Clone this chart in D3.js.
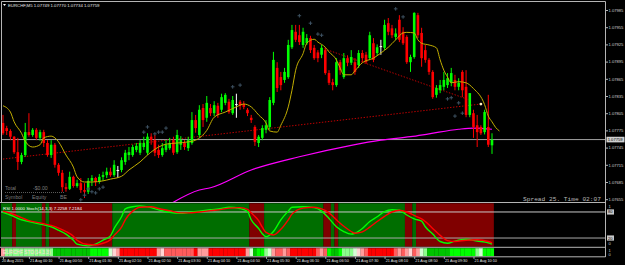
<!DOCTYPE html>
<html>
<head>
<meta charset="utf-8">
<script src="https://cdn.jsdelivr.net/npm/d3@7"></script>
<style>
html, body { margin: 0; padding: 0; background: #000; }
svg { display: block; }
text { font-family: "Liberation Sans", Arial, sans-serif; }
</style>
</head>
<body>
<div id="master"></div>
<script>
// ---- data ----
const title = "EURCHF,M5  1.07749 1.07770 1.07734 1.07759";
const openP = [1.07788,1.07779,1.07774,1.07764,1.07737,1.07720,1.07732,1.07772,1.07767,1.07776,
1.07762,1.07772,1.07753,1.07732,1.07750,1.07715,1.07701,1.07676,1.07673,1.07694,
1.07678,1.07683,1.07671,1.07668,1.07687,1.07692,1.07685,1.07694,1.07697,1.07703,
1.07697,1.07706,1.07706,1.07720,1.07732,1.07732,1.07741,1.07736,1.07746,1.07736,
1.07764,1.07758,1.07741,1.07732,1.07741,1.07744,1.07758,1.07737,1.07750,1.07753,
1.07744,1.07753,1.07793,1.07767,1.07814,1.07797,1.07814,1.07805,1.07818,1.07811,
1.07823,1.07825,1.07805,1.07821,1.07825,1.07821,1.07811,1.07797,1.07781,1.07753,
1.07762,1.07776,1.07781,1.07823,1.07884,1.07868,1.07863,1.07868,1.07920,1.07947,
1.07941,1.07924,1.07927,1.07936,1.07919,1.07911,1.07907,1.07915,1.07875,1.07859,
1.07854,1.07894,1.07868,1.07901,1.07893,1.07894,1.07889,1.07910,1.07907,1.07901,
1.07927,1.07910,1.07922,1.07919,1.07962,1.07953,1.07938,1.07968,1.07947,1.07938,
1.07894,1.07903,1.07976,1.07945,1.07915,1.07898,1.07877,1.07837,1.07845,1.07851,
1.07854,1.07858,1.07863,1.07851,1.07877,1.07851,1.07802,1.07805,1.07784,1.07781,
1.07772,1.07781,1.07749];
const highP = [1.07802,1.07783,1.07777,1.07765,1.07762,1.07736,1.07788,1.07805,1.07779,1.07779,
1.07776,1.07776,1.07758,1.07758,1.07753,1.07718,1.07706,1.07683,1.07703,1.07696,
1.07689,1.07692,1.07683,1.07692,1.07697,1.07694,1.07699,1.07703,1.07710,1.07710,
1.07723,1.07713,1.07728,1.07741,1.07746,1.07750,1.07753,1.07758,1.07764,1.07770,
1.07770,1.07767,1.07750,1.07753,1.07758,1.07762,1.07764,1.07776,1.07765,1.07758,
1.07764,1.07807,1.07802,1.07819,1.07821,1.07835,1.07821,1.07826,1.07823,1.07839,
1.07840,1.07830,1.07835,1.07839,1.07828,1.07826,1.07814,1.07802,1.07784,1.07767,
1.07784,1.07793,1.07833,1.07912,1.07894,1.07877,1.07884,1.07933,1.07959,1.07959,
1.07959,1.07954,1.07943,1.07940,1.07924,1.07915,1.07924,1.07920,1.07880,1.07865,
1.07901,1.07898,1.07910,1.07906,1.07915,1.07901,1.07915,1.07915,1.07912,1.07947,
1.07936,1.07925,1.07933,1.07968,1.07971,1.07959,1.07953,1.07976,1.07955,1.07941,
1.07907,1.07981,1.07980,1.07954,1.07924,1.07901,1.07880,1.07854,1.07863,1.07877,
1.07875,1.07884,1.07872,1.07866,1.07880,1.07880,1.07840,1.07811,1.07802,1.07784,
1.07811,1.07837,1.07770];
const lowP = [1.07767,1.07767,1.07758,1.07734,1.07706,1.07716,1.07729,1.07764,1.07764,1.07758,
1.07757,1.07746,1.07729,1.07727,1.07710,1.07696,1.07668,1.07668,1.07671,1.07675,
1.07675,1.07666,1.07657,1.07664,1.07678,1.07678,1.07682,1.07687,1.07692,1.07694,
1.07694,1.07692,1.07702,1.07715,1.07723,1.07729,1.07737,1.07732,1.07741,1.07732,
1.07750,1.07730,1.07727,1.07729,1.07737,1.07741,1.07732,1.07734,1.07741,1.07741,
1.07739,1.07750,1.07771,1.07762,1.07781,1.07790,1.07800,1.07800,1.07797,1.07807,
1.07819,1.07804,1.07802,1.07797,1.07811,1.07812,1.07800,1.07788,1.07748,1.07746,
1.07758,1.07770,1.07776,1.07819,1.07842,1.07845,1.07858,1.07865,1.07917,1.07929,
1.07924,1.07919,1.07924,1.07910,1.07898,1.07894,1.07901,1.07872,1.07854,1.07845,
1.07851,1.07872,1.07865,1.07887,1.07889,1.07872,1.07884,1.07894,1.07891,1.07898,
1.07894,1.07905,1.07907,1.07915,1.07941,1.07936,1.07933,1.07929,1.07924,1.07891,
1.07877,1.07900,1.07936,1.07886,1.07893,1.07872,1.07830,1.07832,1.07840,1.07845,
1.07849,1.07852,1.07845,1.07845,1.07833,1.07798,1.07798,1.07762,1.07746,1.07767,
1.07768,1.07746,1.07734];
const closeP = [1.07770,1.07774,1.07764,1.07737,1.07720,1.07732,1.07772,1.07767,1.07776,1.07762,
1.07772,1.07753,1.07732,1.07750,1.07715,1.07701,1.07676,1.07673,1.07694,1.07678,
1.07683,1.07671,1.07668,1.07687,1.07692,1.07685,1.07694,1.07697,1.07703,1.07697,
1.07715,1.07706,1.07723,1.07736,1.07737,1.07746,1.07748,1.07753,1.07753,1.07764,
1.07758,1.07736,1.07732,1.07744,1.07750,1.07753,1.07736,1.07767,1.07758,1.07746,
1.07758,1.07793,1.07779,1.07811,1.07793,1.07823,1.07805,1.07819,1.07802,1.07833,
1.07837,1.07807,1.07828,1.07821,1.07818,1.07816,1.07805,1.07793,1.07755,1.07764,
1.07779,1.07784,1.07828,1.07898,1.07849,1.07854,1.07877,1.07924,1.07950,1.07933,
1.07929,1.07947,1.07936,1.07915,1.07901,1.07901,1.07919,1.07875,1.07858,1.07854,
1.07894,1.07880,1.07901,1.07893,1.07903,1.07877,1.07910,1.07901,1.07894,1.07941,
1.07898,1.07920,1.07922,1.07959,1.07947,1.07941,1.07944,1.07933,1.07927,1.07894,
1.07903,1.07980,1.07941,1.07901,1.07898,1.07877,1.07833,1.07849,1.07854,1.07863,
1.07866,1.07875,1.07851,1.07858,1.07845,1.07802,1.07840,1.07781,1.07772,1.07770,
1.07807,1.07750,1.07759];

// fast (yellow) moving average, sampled
const maBars = [0,2,3,5,6,8,10,11,13,14,15,17,19,20,22,24,27,29,32,34,37,39,42,44,47,50,52,55,57,60,
63,65,67,69,71,72,74,75,77,78,79,81,82,84,85,87,88,90,91,92,94,95,97,100,102,104,106,108,109,111,
112,113,115,117,118,119,120,121,123,125,127,130,131,132,133,134];
const maVals = [1.07818,1.07807,1.07790,1.07770,1.07756,1.07746,1.07750,1.07762,1.07765,1.07762,
1.07755,1.07732,1.07711,1.07694,1.07685,1.07685,1.07687,1.07690,1.07695,1.07706,
1.07720,1.07732,1.07746,1.07751,1.07753,1.07755,1.07758,1.07775,1.07798,1.07807,
1.07816,1.07821,1.07816,1.07802,1.07788,1.07774,1.07772,1.07784,1.07816,1.07845,
1.07880,1.07909,1.07927,1.07934,1.07929,1.07920,1.07912,1.07898,1.07884,1.07872,
1.07872,1.07879,1.07893,1.07901,1.07910,1.07920,1.07933,1.07945,1.07946,1.07945,
1.07933,1.07927,1.07924,1.07919,1.07898,1.07880,1.07868,1.07858,1.07860,1.07858,
1.07848,1.07820,1.07800,1.07790,1.07780,1.07774];

// slow (magenta) moving average
const slowBars = [45,53,56,67,80,94,102,110,115,123,127,132];
const slowVals = [1.07646,1.07671,1.07675,1.07706,1.07729,1.07749,1.07758,1.07764,1.07769,1.07777,1.07779,1.07777];

// dotted trend lines: [bar, price] pairs
const trendUp = [[0, 1.07725], [129, 1.07821]];
const trendDown = [[86, 1.07919], [126, 1.07828]];

// small crosses above / below bars
const crossBars = [21,22,23,24,25,26,27,38,39,41,42,43,44,62,64,80,83,85,86,106,108,120,121,123,124,122];
const crossVals = [1.07654,1.07662,1.07673,1.07668,1.07666,1.07673,1.07676,1.07772,1.07781,1.07769,1.07772,1.07772,1.07779,
1.07851,1.07854,1.07975,1.07962,1.07943,1.07941,1.07987,1.07973,1.07830,1.07832,1.07823,1.07805,1.07800];

// stochastic window
const stBars = [0,2,5,7,10,13,15,17,19,20,23,25,27,29,30,32,33,35,37,40,42,45,48,50,53,56,59,61,64,66,
67,69,70,71,73,75,77,78,81,84,86,88,90,92,94,95,97,99,101,103,105,107,109,111,113,114,116,118,120,122,
125,128,131,132];
const stMain = [79,73,62,58,52,46,38,29,15,6,2,6,15,25,42,69,87,92,94,90,85,79,77,79,82,85,88,91,88,81,
62,42,30,23,35,62,82,91,92,90,82,65,46,35,29,31,42,58,69,81,85,84,73,64,59,46,29,12,8,13,
17,13,9,6];
const stSignal = [82,77,67,60,55,49,43,35,24,15,5,4,8,16,26,45,62,82,91,92,88,83,78,78,80,83,86,89,90,86,
78,60,45,33,27,40,62,75,89,91,87,78,62,47,35,31,34,45,58,70,80,84,80,72,64,58,42,26,14,12,
15,16,12,9];
const zoneStart = [0,3,4,11,12,13,30,67,71,87,89,90,91,109,111,112];
const zoneUp = [1,0,1,0,1,0,1,0,1,0,1,0,1,0,1,0];

// STO colour strip, level per bar (0 = strong down ... 7 = strong up)
const stoLevel = [2,5,5,5,5,5,5,5,5,5,5,5,5,5,7,7,7,7,7,7,7,7,7,7,6,6,6,6,6,4,3,2,
0,0,0,0,0,0,0,0,0,0,2,3,1,1,1,1,1,1,1,1,0,2,2,2,0,0,0,0,0,0,0,0,0,0,2,4,7,6,6,5,4,
2,1,1,2,1,0,0,0,0,0,0,0,1,2,1,6,7,7,6,5,5,5,4,3,2,1,0,0,0,0,0,0,0,1,2,1,2,3,1,2,4,
5,7,7,7,7,7,7,6,6,6,6,6,6,6,5,4,6,6,6];

const priceTicks = [1.07985,1.07955,1.07925,1.07895,1.07865,1.07835,1.07805,1.07775,1.07745,1.07715,1.07685,1.07655];
const lastPrice = 1.07759;
const timeBars = [0,7,15,23,31,39,47,55,63,71,79,87,95,103,111,119,127];
const timeLabels = ["20 Aug 2015","21 Aug 00:10","21 Aug 00:50","21 Aug 01:30","21 Aug 02:10","21 Aug 02:50",
"21 Aug 03:30","21 Aug 04:10","21 Aug 04:50","21 Aug 05:30","21 Aug 06:10","21 Aug 06:50","21 Aug 07:30",
"21 Aug 08:10","21 Aug 08:50","21 Aug 09:30","21 Aug 10:10"];

// ---- drawing ----
const W = 625, H = 265;
const axisX = 605.5;
const stoPalette = ["#ff0000","#ff5c5c","#ff9c9c","#ffd4d4","#d4ffd4","#8cff8c","#00ff00","#00c400"];

let x = d3.scaleLinear().domain([0, 132]).range([3, 492]);
let step = x(1) - x(0);
let y = d3.scaleLinear().domain([1.07655, 1.07985]).range([199.2, 10]);
let ys = d3.scaleLinear().domain([0, 100]).range([246.7, 203.3]);

let svg = d3.select("#master").append("svg").attr("width", W).attr("height", H);
svg.append("rect").attr("width", W).attr("height", H).attr("fill", "#000");

let defs = svg.append("defs");
defs.append("clipPath").attr("id", "mainClip").append("rect")
  .attr("x", 2).attr("y", 2).attr("width", axisX - 2).attr("height", 200);
defs.append("clipPath").attr("id", "subClip").append("rect")
  .attr("x", 1).attr("y", 203).attr("width", axisX - 1).attr("height", 44);

// main window
let main = svg.append("g").attr("clip-path", "url(#mainClip)");

// bid line
main.append("line").attr("x1", 2).attr("x2", axisX)
  .attr("y1", y(lastPrice)).attr("y2", y(lastPrice))
  .attr("stroke", "#a0a0a0").attr("stroke-width", 1);

// slow MA (magenta)
main.append("path")
  .datum(slowBars.map((b, i) => [b, slowVals[i]]))
  .attr("fill", "none").attr("stroke", "#ff00ff").attr("stroke-width", 1.2)
  .attr("d", d3.line().x(d => x(d[0])).y(d => y(d[1])).curve(d3.curveMonotoneX));

// dotted trend lines
[trendUp, trendDown].forEach(t => {
  main.append("line")
    .attr("x1", x(t[0][0])).attr("y1", y(t[0][1]))
    .attr("x2", x(t[1][0])).attr("y2", y(t[1][1]))
    .attr("stroke", "#c00000").attr("stroke-width", 1)
    .attr("stroke-dasharray", "1.4,1.6");
});

// candles
let bars = d3.range(closeP.length).map(i => ({ i: i, o: openP[i], h: highP[i], l: lowP[i], c: closeP[i] }));
let candleColor = d => d.c > d.o ? "#00ff00" : (d.c < d.o ? "#ff0000" : "#ffffff");

main.selectAll(".wick").data(bars).enter().append("line")
  .attr("class", "wick")
  .attr("x1", d => x(d.i)).attr("x2", d => x(d.i))
  .attr("y1", d => y(d.h)).attr("y2", d => y(d.l))
  .attr("stroke", candleColor).attr("stroke-width", 1);

main.selectAll(".body").data(bars).enter().append("rect")
  .attr("class", "body")
  .attr("x", d => x(d.i) - 1.3)
  .attr("width", 2.6)
  .attr("y", d => y(Math.max(d.o, d.c)))
  .attr("height", d => Math.max(1, Math.abs(y(d.o) - y(d.c))))
  .attr("fill", candleColor);

// fast MA (yellow)
main.append("path")
  .datum(maBars.map((b, i) => [b, maVals[i]]))
  .attr("fill", "none").attr("stroke", "#c2ae00").attr("stroke-width", 1)
  .attr("d", d3.line().x(d => x(d[0])).y(d => y(d[1])).curve(d3.curveMonotoneX));

// crosses
let cross = main.selectAll(".cross").data(crossBars.map((b, i) => [b, crossVals[i]]))
  .enter().append("g").attr("class", "cross")
  .attr("transform", d => "translate(" + x(d[0]) + "," + y(d[1]) + ")");
cross.append("line").attr("x1", -1.8).attr("x2", 1.8).attr("stroke", "#3e5262").attr("stroke-width", 1);
cross.append("line").attr("y1", -1.8).attr("y2", 1.8).attr("stroke", "#3e5262").attr("stroke-width", 1);

// little arrow tip where the trend lines meet
main.append("circle").attr("cx", x(trendUp[1][0])).attr("cy", y(trendUp[1][1]))
  .attr("r", 1.4).attr("fill", "#fff0c0");

// account box text
let info = svg.append("g").attr("fill", "#7c7c7c").style("font-size", "5.2px");
info.append("text").attr("x", 5).attr("y", 190).text("Total");
info.append("text").attr("x", 33).attr("y", 190).text("-$0.00");
info.append("text").attr("x", 5).attr("y", 199).text("Symbol");
info.append("text").attr("x", 32).attr("y", 199).text("Equity");
info.append("text").attr("x", 60).attr("y", 199).text("BE");
svg.append("line").attr("x1", 5).attr("x2", 65).attr("y1", 192.5).attr("y2", 192.5)
  .attr("stroke", "#5a5a5a").attr("stroke-dasharray", "1,1");

svg.append("text").attr("x", 523).attr("y", 200.5)
  .style("font-family", "'Liberation Mono', 'DejaVu Sans Mono', monospace")
  .style("font-size", "6.2px").attr("fill", "#b8b8b8")
  .text("Spread 25. Time 02:07");

// title
svg.append("path").attr("d", "M3,4 L6,4 L4.5,6 Z").attr("fill", "#ffffff");
svg.append("text").attr("x", 8).attr("y", 7).attr("fill", "#e8e8e8")
  .style("font-size", "4.3px").text(title);

// stochastic window
let sub = svg.append("g").attr("clip-path", "url(#subClip)");
zoneStart.forEach((s, k) => {
  let x0 = k == 0 ? 1 : x(s) - step / 2;
  let end = k < zoneStart.length - 1 ? zoneStart[k + 1] : 133;
  let x1 = x(end) - step / 2;
  sub.append("rect").attr("x", x0).attr("width", x1 - x0)
    .attr("y", ys(100)).attr("height", ys(0) - ys(100))
    .attr("fill", zoneUp[k] ? "#006e00" : "#800000");
});
[80, 20].forEach(v => {
  sub.append("line").attr("x1", 1).attr("x2", axisX)
    .attr("y1", ys(v)).attr("y2", ys(v))
    .attr("stroke", v == 80 ? "#c8c8c8" : "#a8a8a8").attr("stroke-width", 1);
});
let stLine = d3.line().x(d => x(d[0])).y(d => ys(d[1])).curve(d3.curveMonotoneX);
sub.append("path").datum(stBars.map((b, i) => [b, stMain[i]]))
  .attr("fill", "none").attr("stroke", "#00ff00").attr("stroke-width", 1.4).attr("d", stLine);
sub.append("path").datum(stBars.map((b, i) => [b, stSignal[i]]))
  .attr("fill", "none").attr("stroke", "#ff0000").attr("stroke-width", 1.4).attr("d", stLine);
svg.append("text").attr("x", 3).attr("y", 209.5).attr("fill", "#ffffff")
  .style("font-size", "4.4px").text("RSI 1.0000  Stoch(14,3,3) 7.2258 7.2184");

// STO colour strip
svg.selectAll(".sto").data(stoLevel).enter().append("rect")
  .attr("class", "sto")
  .attr("x", (d, i) => i == 0 ? 1 : x(i) - step / 2)
  .attr("width", (d, i) => i == 0 ? x(0) + step / 2 - 1 : step + 0.2)
  .attr("y", 248.2).attr("height", 8)
  .attr("fill", d => stoPalette[d]);
svg.append("text").attr("x", 3).attr("y", 254).attr("fill", "#ffdada")
  .style("font-size", "4.8px").text("EURCHF STO(14,3,3)");

// frame lines
let frame = svg.append("g").attr("stroke", "#b4b4b4").attr("stroke-width", 1);
frame.append("line").attr("x1", 1.5).attr("x2", axisX).attr("y1", 1.5).attr("y2", 1.5);
frame.append("line").attr("x1", 1.5).attr("x2", 1.5).attr("y1", 1.5).attr("y2", 202.5);
frame.append("line").attr("x1", axisX).attr("x2", axisX).attr("y1", 1.5).attr("y2", 257);
frame.append("line").attr("x1", 0).attr("x2", axisX).attr("y1", 202.5).attr("y2", 202.5);
frame.append("line").attr("x1", 0).attr("x2", axisX).attr("y1", 247.3).attr("y2", 247.3);
frame.append("line").attr("x1", 0).attr("x2", axisX).attr("y1", 256.8).attr("y2", 256.8);

// price axis
let yAxis = d3.axisRight(y).tickValues(priceTicks).tickSize(2.5).tickPadding(0.5)
  .tickFormat(d3.format(".5f"));
let gy = svg.append("g").attr("transform", "translate(" + axisX + ",0)").call(yAxis);
gy.select(".domain").remove();
gy.selectAll("line").attr("stroke", "#b4b4b4");
gy.selectAll("text").attr("fill", "#d0d0d0").style("font-size", "4.1px")
  .style("font-family", "'Liberation Sans', Arial, sans-serif");

// current price box
svg.append("rect").attr("x", axisX + 1).attr("y", y(lastPrice) - 2.8).attr("width", 18).attr("height", 5.6)
  .attr("fill", "#d0d0d0");
svg.append("text").attr("x", axisX + 2.2).attr("y", y(lastPrice) + 1.5).attr("fill", "#000")
  .style("font-size", "4.1px").text(d3.format(".5f")(lastPrice));

// stochastic window scale labels
[80, 20].forEach(v => {
  svg.append("rect").attr("x", axisX + 1.5).attr("y", ys(v) - 2.6).attr("width", 7).attr("height", 5.2)
    .attr("fill", "#c8c8c8");
  svg.append("text").attr("x", axisX + 2.4).attr("y", ys(v) + 1.5).attr("fill", "#000")
    .style("font-size", "4.1px").text(v);
});
svg.append("text").attr("x", axisX + 3).attr("y", ys(100) + 4.3).attr("fill", "#c8c8c8")
  .style("font-size", "4.1px").text("1");
svg.append("text").attr("x", axisX + 3).attr("y", ys(0) - 1.4).attr("fill", "#c8c8c8")
  .style("font-size", "4.1px").text("0");
svg.append("text").attr("x", axisX + 3).attr("y", 252).attr("fill", "#c8c8c8")
  .style("font-size", "4px").text("1");
svg.append("text").attr("x", axisX + 3).attr("y", 256).attr("fill", "#c8c8c8")
  .style("font-size", "4px").text("0");

// time axis
let xAxis = d3.axisBottom(x).tickValues(timeBars).tickSize(2).tickPadding(1)
  .tickFormat((d, i) => timeLabels[i]);
let gx = svg.append("g").attr("transform", "translate(0,256.8)").call(xAxis);
gx.select(".domain").remove();
gx.selectAll("line").attr("stroke", "#b4b4b4");
gx.selectAll("text").attr("fill", "#e0e0e0").attr("text-anchor", "start")
  .attr("dx", (d, i) => i == 0 ? "-1.5" : "0.6")
  .style("font-size", "3.8px").style("font-family", "'Liberation Sans', Arial, sans-serif");
</script>
</body>
</html>
